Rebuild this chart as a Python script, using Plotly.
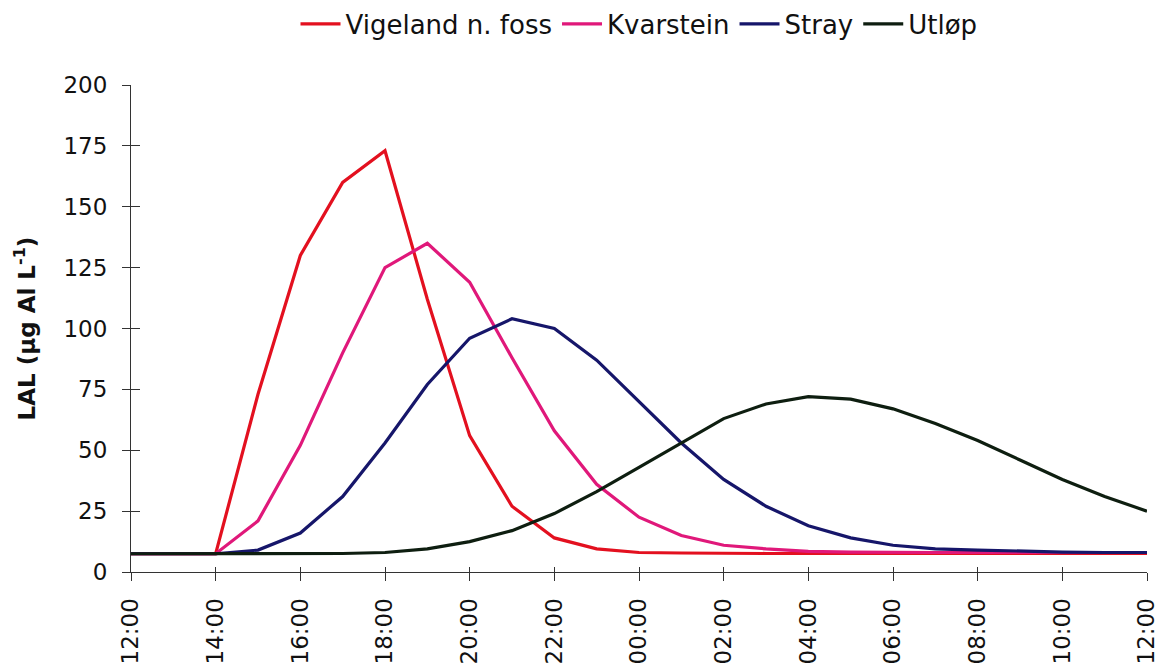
import pandas as pd
import plotly.graph_objects as go

# hourly samples, 12:00 one day to 12:00 the next
times = pd.date_range("2000-01-01 12:00", "2000-01-02 12:00", freq="h")

vigeland = [7.5, 7.5, 7.5, 73, 130, 160, 173, 112, 56, 27, 14, 9.5, 8,
            7.8, 7.6, 7.6, 7.6, 7.6, 7.6, 7.6, 7.6, 7.6, 7.6, 7.6, 7.6]
kvarstein = [7.5, 7.5, 7.5, 21, 52, 90, 125, 135, 119, 88, 58, 36, 22.5,
             15, 11, 9.5, 8.5, 8.2, 8, 8, 8, 8, 8, 8, 8]
stray = [7.5, 7.5, 7.5, 9, 16, 31, 53, 77, 96, 104, 100, 87, 70,
         53, 38, 27, 19, 14, 11, 9.5, 9, 8.5, 8.2, 8, 8]
utlop = [7.5, 7.5, 7.5, 7.5, 7.5, 7.6, 8, 9.5, 12.5, 17, 24, 33, 43,
         53, 63, 69, 72, 71, 67, 61, 54, 46, 38, 31, 25]

series = [
    ("Vigeland n. foss", vigeland, "#e3101f"),
    ("Kvarstein", kvarstein, "#e0187a"),
    ("Stray", stray, "#16166a"),
    ("Utløp", utlop, "#0e1e10"),
]

y_ticks = [0, 25, 50, 75, 100, 125, 150, 175, 200]

fig = go.Figure()
for name, vals, col in series:
    fig.add_trace(go.Scatter(x=times, y=vals, name=name, mode="lines",
                             line=dict(color=col, width=3.2)))

# invisible trace on second axes so the inside half of the cross ticks shows
fig.add_trace(go.Scatter(x=[times[0]], y=[0], xaxis="x2", yaxis="y2",
                         showlegend=False, hoverinfo="skip",
                         mode="markers", marker=dict(opacity=0)))

font = "DejaVu Sans, Arial, sans-serif"
t0, t1 = times[0], times[-1]
two_h = 2 * 3600 * 1000
W, H = 1160, 661  # page adds 8px body margin

fig.update_layout(
    width=W, height=H,
    paper_bgcolor="white", plot_bgcolor="white",
    margin=dict(l=123, r=21, t=77, b=97, autoexpand=False),
    font=dict(family=font, size=22, color="#111"),
    showlegend=True,
    legend=dict(orientation="h", x=0.5, xanchor="center", xref="paper",
                y=1 - 16 / H, yanchor="middle", yref="container",
                font=dict(size=26), itemwidth=40, tracegroupgap=0),
    xaxis=dict(type="date", range=[t0, t1], tick0=t0, dtick=two_h,
               tickformat="%H:%M", tickangle=-90, ticks="outside", ticklen=8,
               tickcolor="#333", showline=True, linecolor="#333", linewidth=1,
               showgrid=False, zeroline=False, tickfont=dict(size=23),
               ticklabelstandoff=8, automargin=False),
    yaxis=dict(range=[0, 200], tickvals=y_ticks, ticks="outside", ticklen=8,
               tickcolor="#333", showline=True, linecolor="#333", linewidth=1,
               showgrid=False, zeroline=False, tickfont=dict(size=23),
               ticklabelstandoff=10, automargin=False,
               title=dict(text="<b>LAL (µg Al L<sup>-1</sup>)</b>",
                          font=dict(size=23), standoff=21)),
    xaxis2=dict(type="date", range=[t0, t1], tick0=t0, dtick=two_h,
                overlaying="x", ticks="inside", ticklen=5, tickcolor="#333",
                showticklabels=False, showgrid=False, zeroline=False),
    yaxis2=dict(range=[0, 200], tickvals=y_ticks, overlaying="y",
                ticks="inside", ticklen=9, tickcolor="#333",
                showticklabels=False, showgrid=False, zeroline=False),
)

fig.write_html("out.html")
